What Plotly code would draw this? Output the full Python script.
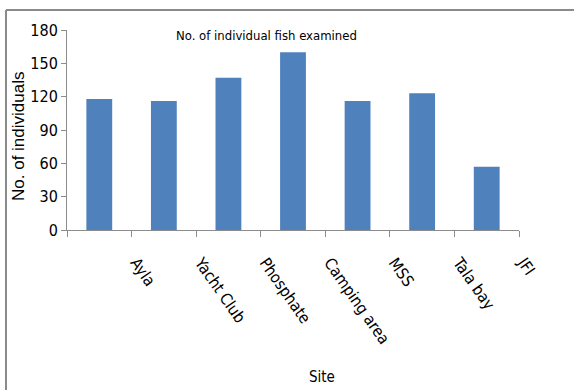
import plotly.graph_objects as go

sites = ["Ayla", "Yacht Club", "Phosphate", "Camping area", "MSS", "Tala bay", "JFI"]
counts = [118, 116, 137, 160, 116, 123, 57]
y_ticks = [0, 30, 60, 90, 120, 150, 180]

narrow = "Liberation Sans Narrow, DejaVu Sans Condensed, sans-serif"
axis_col = "#8c8c8c"

fig = go.Figure(go.Bar(x=sites, y=counts, marker_color="#4f81bd", marker_line_width=0))

W, H = 574, 390
L, R, T, B = 67, 55, 30, 160
pw, ph = W - L - R, H - T - B

def px(x):
    return (x - L) / pw

def py(y):
    return (H - B - y) / ph

fig.update_layout(
    width=W, height=H,
    margin=dict(l=L, r=R, t=T, b=B),
    plot_bgcolor="white", paper_bgcolor="white",
    bargap=0.6,
    showlegend=False,
    font=dict(family=narrow, size=15, color="black"),
    xaxis=dict(
        showline=True, linecolor=axis_col, linewidth=1,
        ticks="outside", tickson="boundaries", ticklen=6, tickcolor=axis_col,
        tickangle=55, tickfont=dict(family=narrow, size=16),
        ticklabelshift=37, ticklabelstandoff=16,
        showgrid=False,
    ),
    yaxis=dict(
        range=[0, 180], tickvals=y_ticks,
        showline=True, linecolor=axis_col, linewidth=1,
        ticks="outside", ticklen=5, tickcolor=axis_col,
        tickfont=dict(family=narrow, size=16),
        showgrid=False, zeroline=False,
    ),
    annotations=[
        dict(text="No. of individual fish examined", xref="paper", yref="paper",
             x=px(266), y=py(35), xanchor="center", yanchor="middle",
             showarrow=False, font=dict(family=narrow, size=13)),
        dict(text="Site", xref="paper", yref="paper",
             x=px(322), y=py(377), xanchor="center", yanchor="middle",
             showarrow=False, font=dict(family=narrow, size=15)),
        dict(text="No. of individuals", xref="paper", yref="paper",
             x=px(18), y=py(137), xanchor="center", yanchor="middle", textangle=-90,
             showarrow=False, font=dict(family="Liberation Sans, Arial, sans-serif", size=17)),
    ],
    shapes=[
        dict(type="line", xref="paper", yref="paper", x0=px(6), x1=px(574), y0=py(10), y1=py(10),
             line=dict(color="#8a8a8a", width=2)),
        dict(type="line", xref="paper", yref="paper", x0=px(6), x1=px(6), y0=py(10), y1=py(390),
             line=dict(color="#8a8a8a", width=2)),
    ],
)

fig.write_html("out.html")
